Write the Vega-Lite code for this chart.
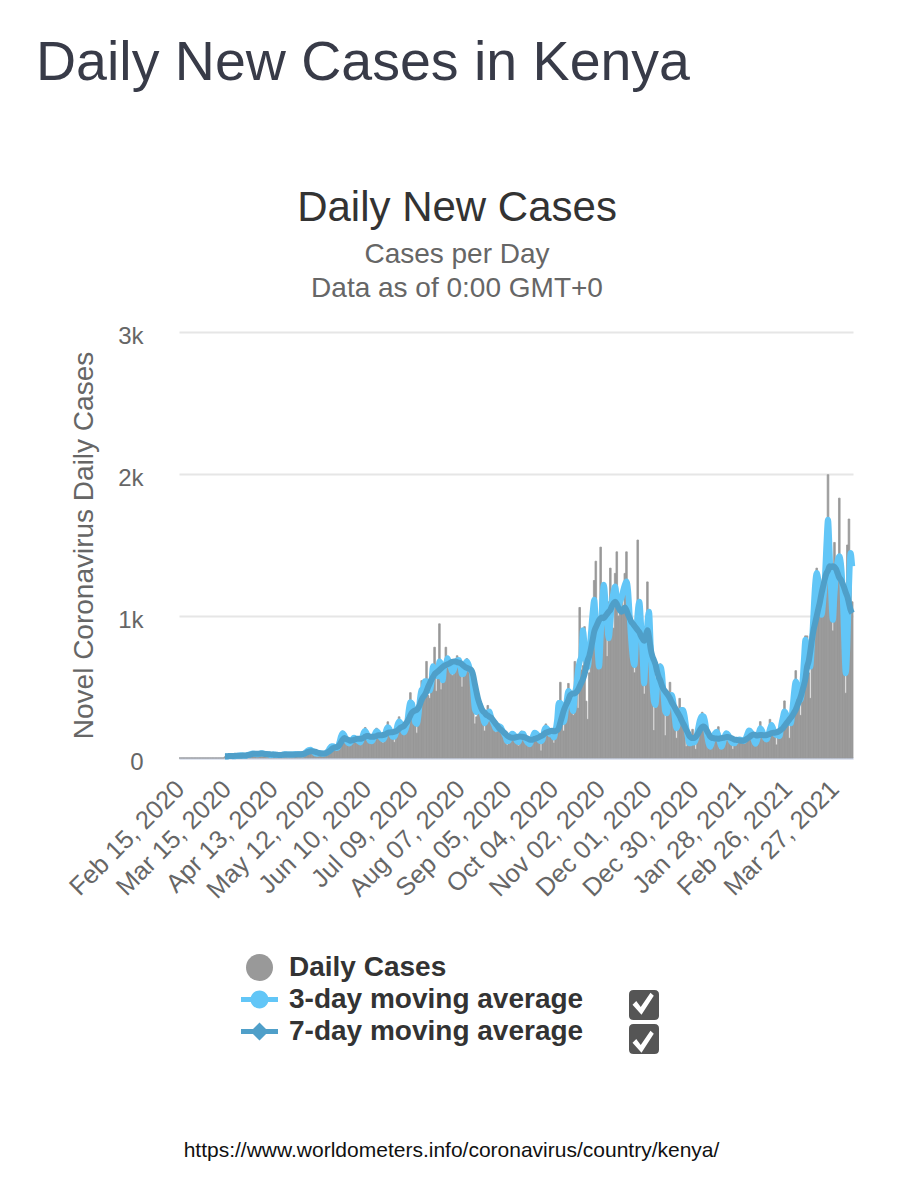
{"$schema":"https://vega.github.io/schema/vega-lite/v6.json","background":"white","padding":{"left":36,"top":35,"right":5,"bottom":5},"config":{"font":"Liberation Sans","view":{"stroke":null},"concat":{"spacing":0}},
"title":{"text":"Daily New Cases in Kenya","anchor":"start","frame":"bounds","dx":-29,"fontSize":55.5,"fontWeight":"normal","color":"#383b48","offset":96},
"datasets":{"days":[
{"d":"Feb 15, 2020","c":0},{"d":"Feb 16, 2020","c":0},{"d":"Feb 17, 2020","c":0},{"d":"Feb 18, 2020","c":0},{"d":"Feb 19, 2020","c":0},{"d":"Feb 20, 2020","c":0},{"d":"Feb 21, 2020","c":0},{"d":"Feb 22, 2020","c":0},{"d":"Feb 23, 2020","c":0},{"d":"Feb 24, 2020","c":0},{"d":"Feb 25, 2020","c":0},{"d":"Feb 26, 2020","c":0},{"d":"Feb 27, 2020","c":0},{"d":"Feb 28, 2020","c":0},{"d":"Feb 29, 2020","c":0},
{"d":"Mar 01, 2020","c":0},{"d":"Mar 02, 2020","c":0},{"d":"Mar 03, 2020","c":0},{"d":"Mar 04, 2020","c":0},{"d":"Mar 05, 2020","c":0},{"d":"Mar 06, 2020","c":0},{"d":"Mar 07, 2020","c":0},{"d":"Mar 08, 2020","c":0},{"d":"Mar 09, 2020","c":0},{"d":"Mar 10, 2020","c":0},{"d":"Mar 11, 2020","c":0},{"d":"Mar 12, 2020","c":0},{"d":"Mar 13, 2020","c":0},
{"d":"Mar 14, 2020","c":8,"a":10,"b":12},{"d":"Mar 15, 2020","c":6,"a":10,"b":12},{"d":"Mar 16, 2020","c":10,"a":12,"b":13},{"d":"Mar 17, 2020","c":12,"a":14,"b":14},{"d":"Mar 18, 2020","c":14,"a":14,"b":14},{"d":"Mar 19, 2020","c":10,"a":12,"b":14},{"d":"Mar 20, 2020","c":9,"a":12,"b":15},
{"d":"Mar 21, 2020","c":12,"a":14,"b":15},{"d":"Mar 22, 2020","c":15,"a":16,"b":15},{"d":"Mar 23, 2020","c":18,"a":18,"b":16},{"d":"Mar 24, 2020","c":20,"a":19,"b":16},{"d":"Mar 25, 2020","c":18,"a":18,"b":17},{"d":"Mar 26, 2020","c":16,"a":16,"b":17},{"d":"Mar 27, 2020","c":14,"a":16,"b":18},
{"d":"Mar 28, 2020","c":20,"a":20,"b":20},{"d":"Mar 29, 2020","c":24,"a":24,"b":22},{"d":"Mar 30, 2020","c":28,"a":28,"b":25},{"d":"Mar 31, 2020","c":34,"a":31,"b":28},{"d":"Apr 01, 2020","c":30,"a":30,"b":30},{"d":"Apr 02, 2020","c":26,"a":28,"b":30},{"d":"Apr 03, 2020","c":25,"a":26,"b":30},
{"d":"Apr 04, 2020","c":26,"a":28,"b":30},{"d":"Apr 05, 2020","c":32,"a":32,"b":31},{"d":"Apr 06, 2020","c":36,"a":33,"b":32},{"d":"Apr 07, 2020","c":30,"a":31,"b":30},{"d":"Apr 08, 2020","c":26,"a":29,"b":28},{"d":"Apr 09, 2020","c":28,"a":27,"b":28},{"d":"Apr 10, 2020","c":24,"a":26,"b":27},
{"d":"Apr 11, 2020","c":18,"a":22,"b":26},{"d":"Apr 12, 2020","c":22,"a":22,"b":25},{"d":"Apr 13, 2020","c":26,"a":24,"b":24},{"d":"Apr 14, 2020","c":24,"a":24,"b":23},{"d":"Apr 15, 2020","c":22,"a":22,"b":23},{"d":"Apr 16, 2020","c":20,"a":22,"b":22},{"d":"Apr 17, 2020","c":22,"a":22,"b":22},
{"d":"Apr 18, 2020","c":20,"a":22,"b":22},{"d":"Apr 19, 2020","c":22,"a":24,"b":23},{"d":"Apr 20, 2020","c":28,"a":26,"b":24},{"d":"Apr 21, 2020","c":26,"a":26,"b":24},{"d":"Apr 22, 2020","c":24,"a":24,"b":24},{"d":"Apr 23, 2020","c":22,"a":24,"b":24},{"d":"Apr 24, 2020","c":26,"a":24,"b":24},
{"d":"Apr 25, 2020","c":22,"a":24,"b":25},{"d":"Apr 26, 2020","c":24,"a":26,"b":25},{"d":"Apr 27, 2020","c":30,"a":28,"b":25},{"d":"Apr 28, 2020","c":28,"a":27,"b":26},{"d":"Apr 29, 2020","c":24,"a":26,"b":26},{"d":"Apr 30, 2020","c":26,"a":26,"b":26},{"d":"May 01, 2020","c":24,"a":25,"b":28},
{"d":"May 02, 2020","c":28,"a":30,"b":30},{"d":"May 03, 2020","c":36,"a":38,"b":34},{"d":"May 04, 2020","c":48,"a":48,"b":40},{"d":"May 05, 2020","c":62,"a":56,"b":44},{"d":"May 06, 2020","c":56,"a":58,"b":48},{"d":"May 07, 2020","c":50,"a":50,"b":48},{"d":"May 08, 2020","c":42,"a":44,"b":46},
{"d":"May 09, 2020","c":30,"a":32,"b":44},{"d":"May 10, 2020","c":26,"a":30,"b":40},{"d":"May 11, 2020","c":34,"a":32,"b":36},{"d":"May 12, 2020","c":38,"a":34,"b":33},{"d":"May 13, 2020","c":32,"a":32,"b":32},{"d":"May 14, 2020","c":28,"a":30,"b":32},{"d":"May 15, 2020","c":30,"a":32,"b":32},
{"d":"May 16, 2020","c":36,"a":38,"b":36},{"d":"May 17, 2020","c":44,"a":50,"b":42},{"d":"May 18, 2020","c":70,"a":68,"b":50},{"d":"May 19, 2020","c":86,"a":82,"b":60},{"d":"May 20, 2020","c":90,"a":82,"b":70},{"d":"May 21, 2020","c":72,"a":78,"b":74},{"d":"May 22, 2020","c":66,"a":70,"b":76},
{"d":"May 23, 2020","c":60,"a":72,"b":80},{"d":"May 24, 2020","c":100,"a":110,"b":92},{"d":"May 25, 2020","c":170,"a":153,"b":110},{"d":"May 26, 2020","c":190,"a":175,"b":130},{"d":"May 27, 2020","c":165,"a":160,"b":140},{"d":"May 28, 2020","c":135,"a":135,"b":135},{"d":"May 29, 2020","c":110,"a":110,"b":130},
{"d":"May 30, 2020","c":95,"a":102,"b":125},{"d":"May 31, 2020","c":100,"a":112,"b":122},{"d":"Jun 01, 2020","c":140,"a":130,"b":125},{"d":"Jun 02, 2020","c":150,"a":142,"b":128},{"d":"Jun 03, 2020","c":135,"a":136,"b":132},{"d":"Jun 04, 2020","c":125,"a":126,"b":135},{"d":"Jun 05, 2020","c":120,"a":118,"b":135},
{"d":"Jun 06, 2020","c":90,"a":110,"b":135},{"d":"Jun 07, 2020","c":130,"a":136,"b":138},{"d":"Jun 08, 2020","c":190,"a":178,"b":142},{"d":"Jun 09, 2020","c":215,"a":190,"b":150},{"d":"Jun 10, 2020","c":170,"a":170,"b":155},{"d":"Jun 11, 2020","c":140,"a":140,"b":155},{"d":"Jun 12, 2020","c":120,"a":120,"b":150},
{"d":"Jun 13, 2020","c":100,"a":118,"b":150},{"d":"Jun 14, 2020","c":125,"a":133,"b":150},{"d":"Jun 15, 2020","c":175,"a":170,"b":152},{"d":"Jun 16, 2020","c":210,"a":188,"b":155},{"d":"Jun 17, 2020","c":180,"a":180,"b":160},{"d":"Jun 18, 2020","c":150,"a":155,"b":160},{"d":"Jun 19, 2020","c":140,"a":140,"b":160},
{"d":"Jun 20, 2020","c":105,"a":130,"b":162},{"d":"Jun 21, 2020","c":140,"a":146,"b":165},{"d":"Jun 22, 2020","c":195,"a":196,"b":170},{"d":"Jun 23, 2020","c":255,"a":216,"b":178},{"d":"Jun 24, 2020","c":200,"a":205,"b":180},{"d":"Jun 25, 2020","c":165,"a":170,"b":182},{"d":"Jun 26, 2020","c":150,"a":150,"b":182},
{"d":"Jun 27, 2020","c":110,"a":150,"b":185},{"d":"Jun 28, 2020","c":170,"a":175,"b":188},{"d":"Jun 29, 2020","c":240,"a":233,"b":195},{"d":"Jun 30, 2020","c":290,"a":257,"b":205},{"d":"Jul 01, 2020","c":240,"a":243,"b":215},{"d":"Jul 02, 2020","c":200,"a":205,"b":220},{"d":"Jul 03, 2020","c":175,"a":180,"b":225},
{"d":"Jul 04, 2020","c":175,"a":200,"b":240},{"d":"Jul 05, 2020","c":240,"a":245,"b":255},{"d":"Jul 06, 2020","c":325,"a":340,"b":275},{"d":"Jul 07, 2020","c":460,"a":392,"b":300},{"d":"Jul 08, 2020","c":390,"a":383,"b":320},{"d":"Jul 09, 2020","c":300,"a":310,"b":330},{"d":"Jul 10, 2020","c":240,"a":250,"b":335},
{"d":"Jul 11, 2020","c":175,"a":240,"b":340},{"d":"Jul 12, 2020","c":300,"a":298,"b":355},{"d":"Jul 13, 2020","c":420,"a":422,"b":380},{"d":"Jul 14, 2020","c":545,"a":480,"b":410},{"d":"Jul 15, 2020","c":480,"a":490,"b":430},{"d":"Jul 16, 2020","c":450,"a":540,"b":445},{"d":"Jul 17, 2020","c":680,"a":540,"b":470},
{"d":"Jul 18, 2020","c":440,"a":530,"b":500},{"d":"Jul 19, 2020","c":420,"a":475,"b":525},{"d":"Jul 20, 2020","c":560,"a":527,"b":550},{"d":"Jul 21, 2020","c":600,"a":647,"b":570},{"d":"Jul 22, 2020","c":780,"a":617,"b":590},{"d":"Jul 23, 2020","c":470,"a":617,"b":600},{"d":"Jul 24, 2020","c":600,"a":575,"b":610},
{"d":"Jul 25, 2020","c":945,"a":680,"b":620},{"d":"Jul 26, 2020","c":480,"a":662,"b":630},{"d":"Jul 27, 2020","c":560,"a":547,"b":640},{"d":"Jul 28, 2020","c":600,"a":647,"b":650},{"d":"Jul 29, 2020","c":780,"a":657,"b":655},{"d":"Jul 30, 2020","c":690,"a":703,"b":660},{"d":"Jul 31, 2020","c":640,"a":670,"b":665},
{"d":"Aug 01, 2020","c":600,"a":640,"b":672},{"d":"Aug 02, 2020","c":580,"a":607,"b":678},{"d":"Aug 03, 2020","c":640,"a":623,"b":680},{"d":"Aug 04, 2020","c":650,"a":670,"b":680},{"d":"Aug 05, 2020","c":720,"a":687,"b":675},{"d":"Aug 06, 2020","c":690,"a":690,"b":672},{"d":"Aug 07, 2020","c":660,"a":650,"b":668},
{"d":"Aug 08, 2020","c":500,"a":590,"b":660},{"d":"Aug 09, 2020","c":600,"a":593,"b":650},{"d":"Aug 10, 2020","c":680,"a":660,"b":640},{"d":"Aug 11, 2020","c":700,"a":680,"b":635},{"d":"Aug 12, 2020","c":660,"a":660,"b":630},{"d":"Aug 13, 2020","c":620,"a":623,"b":625},{"d":"Aug 14, 2020","c":590,"a":610,"b":615},
{"d":"Aug 15, 2020","c":500,"a":470,"b":580},{"d":"Aug 16, 2020","c":240,"a":343,"b":520},{"d":"Aug 17, 2020","c":290,"a":323,"b":465},{"d":"Aug 18, 2020","c":440,"a":367,"b":415},{"d":"Aug 19, 2020","c":370,"a":373,"b":380},{"d":"Aug 20, 2020","c":310,"a":327,"b":350},{"d":"Aug 21, 2020","c":300,"a":285,"b":330},
{"d":"Aug 22, 2020","c":190,"a":245,"b":320},{"d":"Aug 23, 2020","c":240,"a":267,"b":305},{"d":"Aug 24, 2020","c":370,"a":313,"b":300},{"d":"Aug 25, 2020","c":330,"a":327,"b":290},{"d":"Aug 26, 2020","c":280,"a":290,"b":285},{"d":"Aug 27, 2020","c":260,"a":258,"b":270},{"d":"Aug 28, 2020","c":235,"a":232,"b":255},
{"d":"Aug 29, 2020","c":180,"a":205,"b":240},{"d":"Aug 30, 2020","c":210,"a":210,"b":225},{"d":"Aug 31, 2020","c":240,"a":223,"b":210},{"d":"Sep 01, 2020","c":220,"a":217,"b":200},{"d":"Sep 02, 2020","c":190,"a":195,"b":190},{"d":"Sep 03, 2020","c":175,"a":173,"b":180},{"d":"Sep 04, 2020","c":155,"a":150,"b":170},
{"d":"Sep 05, 2020","c":90,"a":118,"b":158},{"d":"Sep 06, 2020","c":110,"a":122,"b":150},{"d":"Sep 07, 2020","c":165,"a":152,"b":145},{"d":"Sep 08, 2020","c":180,"a":170,"b":142},{"d":"Sep 09, 2020","c":165,"a":165,"b":142},{"d":"Sep 10, 2020","c":150,"a":147,"b":145},{"d":"Sep 11, 2020","c":125,"a":120,"b":148},
{"d":"Sep 12, 2020","c":85,"a":112,"b":150},{"d":"Sep 13, 2020","c":150,"a":142,"b":152},{"d":"Sep 14, 2020","c":190,"a":170,"b":150},{"d":"Sep 15, 2020","c":170,"a":170,"b":148},{"d":"Sep 16, 2020","c":150,"a":143,"b":145},{"d":"Sep 17, 2020","c":110,"a":120,"b":140},{"d":"Sep 18, 2020","c":100,"a":105,"b":135},
{"d":"Sep 19, 2020","c":90,"a":97,"b":130},{"d":"Sep 20, 2020","c":100,"a":120,"b":128},{"d":"Sep 21, 2020","c":170,"a":153,"b":130},{"d":"Sep 22, 2020","c":190,"a":177,"b":135},{"d":"Sep 23, 2020","c":170,"a":173,"b":138},{"d":"Sep 24, 2020","c":160,"a":157,"b":142},{"d":"Sep 25, 2020","c":140,"a":125,"b":148},
{"d":"Sep 26, 2020","c":50,"a":118,"b":155},{"d":"Sep 27, 2020","c":140,"a":130,"b":160},{"d":"Sep 28, 2020","c":200,"a":193,"b":170},{"d":"Sep 29, 2020","c":240,"a":213,"b":178},{"d":"Sep 30, 2020","c":200,"a":203,"b":182},{"d":"Oct 01, 2020","c":170,"a":178,"b":186},{"d":"Oct 02, 2020","c":165,"a":165,"b":190},
{"d":"Oct 03, 2020","c":160,"a":165,"b":192},{"d":"Oct 04, 2020","c":105,"a":145,"b":188},{"d":"Oct 05, 2020","c":170,"a":192,"b":190},{"d":"Oct 06, 2020","c":300,"a":267,"b":195},{"d":"Oct 07, 2020","c":330,"a":388,"b":210},{"d":"Oct 08, 2020","c":533,"a":388,"b":250},{"d":"Oct 09, 2020","c":300,"a":340,"b":290},
{"d":"Oct 10, 2020","c":190,"a":253,"b":330},{"d":"Oct 11, 2020","c":270,"a":297,"b":360},{"d":"Oct 12, 2020","c":430,"a":408,"b":385},{"d":"Oct 13, 2020","c":525,"a":472,"b":410},{"d":"Oct 14, 2020","c":460,"a":452,"b":440},{"d":"Oct 15, 2020","c":370,"a":377,"b":450},{"d":"Oct 16, 2020","c":300,"a":330,"b":455},
{"d":"Oct 17, 2020","c":680,"a":450,"b":455},{"d":"Oct 18, 2020","c":500,"a":510,"b":465},{"d":"Oct 19, 2020","c":350,"a":620,"b":480},{"d":"Oct 20, 2020","c":1060,"a":680,"b":505},{"d":"Oct 21, 2020","c":620,"a":715,"b":530},{"d":"Oct 22, 2020","c":650,"a":900,"b":555},{"d":"Oct 23, 2020","c":925,"a":800,"b":590},
{"d":"Oct 24, 2020","c":400,"a":690,"b":640},{"d":"Oct 25, 2020","c":272,"a":640,"b":690},{"d":"Oct 26, 2020","c":600,"a":730,"b":720},{"d":"Oct 27, 2020","c":900,"a":880,"b":770},{"d":"Oct 28, 2020","c":1100,"a":1020,"b":830},{"d":"Oct 29, 2020","c":1250,"a":1114,"b":890},{"d":"Oct 30, 2020","c":1386,"a":950,"b":920},
{"d":"Oct 31, 2020","c":700,"a":780,"b":945},{"d":"Nov 01, 2020","c":650,"a":644,"b":970},{"d":"Nov 02, 2020","c":1485,"a":850,"b":985},{"d":"Nov 03, 2020","c":1200,"a":1100,"b":990},{"d":"Nov 04, 2020","c":1100,"a":1220,"b":985},{"d":"Nov 05, 2020","c":1000,"a":1100,"b":1000},{"d":"Nov 06, 2020","c":714,"a":950,"b":1015},
{"d":"Nov 07, 2020","c":1100,"a":843,"b":1030},{"d":"Nov 08, 2020","c":1337,"a":950,"b":1043},{"d":"Nov 09, 2020","c":1150,"a":1100,"b":1070},{"d":"Nov 10, 2020","c":914,"a":1170,"b":1090},{"d":"Nov 11, 2020","c":1300,"a":1207,"b":1100},{"d":"Nov 12, 2020","c":1452,"a":1130,"b":1085},{"d":"Nov 13, 2020","c":1000,"a":1067,"b":1060},
{"d":"Nov 14, 2020","c":1150,"a":1100,"b":1040},{"d":"Nov 15, 2020","c":1100,"a":1130,"b":1030},{"d":"Nov 16, 2020","c":1050,"a":1180,"b":1045},{"d":"Nov 17, 2020","c":1300,"a":1220,"b":1060},{"d":"Nov 18, 2020","c":1452,"a":1243,"b":1040},{"d":"Nov 19, 2020","c":1100,"a":1180,"b":1010},{"d":"Nov 20, 2020","c":900,"a":1000,"b":985},
{"d":"Nov 21, 2020","c":700,"a":820,"b":960},{"d":"Nov 22, 2020","c":650,"a":700,"b":945},{"d":"Nov 23, 2020","c":600,"a":655,"b":930},{"d":"Nov 24, 2020","c":750,"a":850,"b":915},{"d":"Nov 25, 2020","c":1535,"a":1030,"b":900},{"d":"Nov 26, 2020","c":1100,"a":1100,"b":885},{"d":"Nov 27, 2020","c":800,"a":950,"b":860},
{"d":"Nov 28, 2020","c":550,"a":720,"b":840},{"d":"Nov 29, 2020","c":450,"a":526,"b":825},{"d":"Nov 30, 2020","c":600,"a":750,"b":860},{"d":"Dec 01, 2020","c":1240,"a":950,"b":900},{"d":"Dec 02, 2020","c":1000,"a":1030,"b":850},{"d":"Dec 03, 2020","c":800,"a":800,"b":770},{"d":"Dec 04, 2020","c":450,"a":550,"b":720},
{"d":"Dec 05, 2020","c":193,"a":400,"b":690},{"d":"Dec 06, 2020","c":400,"a":373,"b":660},{"d":"Dec 07, 2020","c":500,"a":500,"b":610},{"d":"Dec 08, 2020","c":550,"a":580,"b":570},{"d":"Dec 09, 2020","c":663,"a":644,"b":545},{"d":"Dec 10, 2020","c":550,"a":600,"b":510},{"d":"Dec 11, 2020","c":350,"a":450,"b":485},
{"d":"Dec 12, 2020","c":157,"a":330,"b":470},{"d":"Dec 13, 2020","c":350,"a":315,"b":455},{"d":"Dec 14, 2020","c":420,"a":380,"b":440},{"d":"Dec 15, 2020","c":533,"a":430,"b":420},{"d":"Dec 16, 2020","c":430,"a":444,"b":395},{"d":"Dec 17, 2020","c":350,"a":400,"b":375},{"d":"Dec 18, 2020","c":250,"a":280,"b":355},
{"d":"Dec 19, 2020","c":139,"a":209,"b":335},{"d":"Dec 20, 2020","c":250,"a":250,"b":315},{"d":"Dec 21, 2020","c":420,"a":310,"b":295},{"d":"Dec 22, 2020","c":350,"a":338,"b":270},{"d":"Dec 23, 2020","c":280,"a":338,"b":245},{"d":"Dec 24, 2020","c":250,"a":300,"b":225},{"d":"Dec 25, 2020","c":80,"a":220,"b":200},
{"d":"Dec 26, 2020","c":150,"a":150,"b":180},{"d":"Dec 27, 2020","c":90,"a":103,"b":155},{"d":"Dec 28, 2020","c":100,"a":105,"b":145},{"d":"Dec 29, 2020","c":202,"a":115,"b":140},{"d":"Dec 30, 2020","c":100,"a":110,"b":140},{"d":"Dec 31, 2020","c":61,"a":130,"b":150},{"d":"Jan 01, 2021","c":150,"a":180,"b":165},
{"d":"Jan 02, 2021","c":200,"a":240,"b":185},{"d":"Jan 03, 2021","c":290,"a":280,"b":205},{"d":"Jan 04, 2021","c":322,"a":295,"b":218},{"d":"Jan 05, 2021","c":280,"a":291,"b":222},{"d":"Jan 06, 2021","c":220,"a":240,"b":210},{"d":"Jan 07, 2021","c":120,"a":160,"b":190},{"d":"Jan 08, 2021","c":90,"a":100,"b":170},
{"d":"Jan 09, 2021","c":61,"a":80,"b":150},{"d":"Jan 10, 2021","c":120,"a":110,"b":142},{"d":"Jan 11, 2021","c":150,"a":150,"b":140},{"d":"Jan 12, 2021","c":180,"a":175,"b":138},{"d":"Jan 13, 2021","c":190,"a":185,"b":138},{"d":"Jan 14, 2021","c":220,"a":160,"b":136},{"d":"Jan 15, 2021","c":61,"a":110,"b":138},
{"d":"Jan 16, 2021","c":70,"a":80,"b":140},{"d":"Jan 17, 2021","c":100,"a":110,"b":142},{"d":"Jan 18, 2021","c":150,"a":155,"b":145},{"d":"Jan 19, 2021","c":180,"a":174,"b":148},{"d":"Jan 20, 2021","c":170,"a":165,"b":148},{"d":"Jan 21, 2021","c":130,"a":140,"b":145},{"d":"Jan 22, 2021","c":110,"a":115,"b":140},
{"d":"Jan 23, 2021","c":61,"a":105,"b":135},{"d":"Jan 24, 2021","c":100,"a":103,"b":130},{"d":"Jan 25, 2021","c":130,"a":120,"b":128},{"d":"Jan 26, 2021","c":130,"a":128,"b":126},{"d":"Jan 27, 2021","c":130,"a":130,"b":124},{"d":"Jan 28, 2021","c":125,"a":128,"b":122},{"d":"Jan 29, 2021","c":120,"a":125,"b":122},
{"d":"Jan 30, 2021","c":110,"a":120,"b":125},{"d":"Jan 31, 2021","c":130,"a":140,"b":130},{"d":"Feb 01, 2021","c":180,"a":170,"b":138},{"d":"Feb 02, 2021","c":190,"a":193,"b":145},{"d":"Feb 03, 2021","c":190,"a":185,"b":155},{"d":"Feb 04, 2021","c":160,"a":160,"b":162},{"d":"Feb 05, 2021","c":120,"a":125,"b":165},
{"d":"Feb 06, 2021","c":92,"a":100,"b":162},{"d":"Feb 07, 2021","c":110,"a":125,"b":158},{"d":"Feb 08, 2021","c":170,"a":170,"b":160},{"d":"Feb 09, 2021","c":256,"a":210,"b":162},{"d":"Feb 10, 2021","c":190,"a":195,"b":162},{"d":"Feb 11, 2021","c":150,"a":165,"b":160},{"d":"Feb 12, 2021","c":130,"a":140,"b":160},
{"d":"Feb 13, 2021","c":120,"a":130,"b":162},{"d":"Feb 14, 2021","c":150,"a":160,"b":166},{"d":"Feb 15, 2021","c":272,"a":205,"b":170},{"d":"Feb 16, 2021","c":210,"a":233,"b":175},{"d":"Feb 17, 2021","c":200,"a":205,"b":178},{"d":"Feb 18, 2021","c":160,"a":170,"b":178},{"d":"Feb 19, 2021","c":92,"a":160,"b":180},
{"d":"Feb 20, 2021","c":150,"a":160,"b":185},{"d":"Feb 21, 2021","c":180,"a":155,"b":192},{"d":"Feb 22, 2021","c":230,"a":230,"b":200},{"d":"Feb 23, 2021","c":280,"a":285,"b":210},{"d":"Feb 24, 2021","c":402,"a":327,"b":225},{"d":"Feb 25, 2021","c":300,"a":310,"b":240},{"d":"Feb 26, 2021","c":280,"a":280,"b":255},
{"d":"Feb 27, 2021","c":139,"a":250,"b":270},{"d":"Feb 28, 2021","c":250,"a":244,"b":285},{"d":"Mar 01, 2021","c":340,"a":350,"b":300},{"d":"Mar 02, 2021","c":450,"a":470,"b":320},{"d":"Mar 03, 2021","c":615,"a":538,"b":340},{"d":"Mar 04, 2021","c":500,"a":500,"b":370},{"d":"Mar 05, 2021","c":420,"a":430,"b":400},
{"d":"Mar 06, 2021","c":300,"a":409,"b":430},{"d":"Mar 07, 2021","c":420,"a":500,"b":470},{"d":"Mar 08, 2021","c":650,"a":680,"b":510},{"d":"Mar 09, 2021","c":860,"a":832,"b":560},{"d":"Mar 10, 2021","c":860,"a":780,"b":640},{"d":"Mar 11, 2021","c":600,"a":700,"b":680},{"d":"Mar 12, 2021","c":420,"a":644,"b":750},
{"d":"Mar 13, 2021","c":700,"a":800,"b":830},{"d":"Mar 14, 2021","c":1000,"a":1020,"b":900},{"d":"Mar 15, 2021","c":1250,"a":1220,"b":950},{"d":"Mar 16, 2021","c":1337,"a":1302,"b":1000},{"d":"Mar 17, 2021","c":1300,"a":1250,"b":1050},{"d":"Mar 18, 2021","c":1000,"a":1120,"b":1100},{"d":"Mar 19, 2021","c":1050,"a":1008,"b":1160},
{"d":"Mar 20, 2021","c":1100,"a":1100,"b":1210},{"d":"Mar 21, 2021","c":1150,"a":1250,"b":1260},{"d":"Mar 22, 2021","c":1500,"a":1500,"b":1300},{"d":"Mar 23, 2021","c":1995,"a":1678,"b":1320},{"d":"Mar 24, 2021","c":1400,"a":1450,"b":1350},{"d":"Mar 25, 2021","c":1000,"a":1150,"b":1345},{"d":"Mar 26, 2021","c":895,"a":973,"b":1350},
{"d":"Mar 27, 2021","c":1518,"a":1150,"b":1345},{"d":"Mar 28, 2021","c":1200,"a":1300,"b":1330},{"d":"Mar 29, 2021","c":1300,"a":1390,"b":1300},{"d":"Mar 30, 2021","c":1830,"a":1420,"b":1270},{"d":"Mar 31, 2021","c":1300,"a":1370,"b":1255},{"d":"Apr 01, 2021","c":1100,"a":1200,"b":1230},{"d":"Apr 02, 2021","c":800,"a":850,"b":1200},
{"d":"Apr 03, 2021","c":456,"a":597,"b":1165},{"d":"Apr 04, 2021","c":1500,"a":800,"b":1137},{"d":"Apr 05, 2021","c":1683,"a":1200,"b":1090},{"d":"Apr 06, 2021","c":1450,"a":1443,"b":1043},{"d":"Apr 07, 2021","c":1100,"a":1350,"b":1020}
]},
"vconcat":[{
"width":674,"height":426,
"title":{"text":"Daily New Cases","subtitle":["Cases per Day","Data as of 0:00 GMT+0"],"anchor":"middle","dx":-59,"fontSize":42,"fontWeight":"normal","color":"#333333","subtitleFontSize":28,"subtitleColor":"#666666","subtitleLineHeight":34,"subtitlePadding":11,"offset":20},
"encoding":{"x":{"field":"d","type":"ordinal","sort":null,"scale":{"type":"band","paddingInner":0,"paddingOuter":0},
"axis":{"values":["Feb 15, 2020","Mar 15, 2020","Apr 13, 2020","May 12, 2020","Jun 10, 2020","Jul 09, 2020","Aug 07, 2020","Sep 05, 2020","Oct 04, 2020","Nov 02, 2020","Dec 01, 2020","Dec 30, 2020","Jan 28, 2021","Feb 26, 2021","Mar 27, 2021"],"labelAngle":-45,"labelAlign":"right","labelBaseline":"top","labelFontSize":25.5,"labelColor":"#666666","labelOverlap":false,"labelPadding":18,"labelBound":false,"labelFlush":false,"labelOffset":-8,"labelLimit":400,"ticks":false,"domain":true,"domainColor":"#ccd6eb","domainWidth":2,"grid":false,
"title":"https://www.worldometers.info/coronavirus/country/kenya/","titleFontSize":21,"titleFontWeight":"normal","titleColor":"#111111","titleX":272,"titleY":392,"titleAlign":"center","titleBaseline":"middle","titleAnchor":"middle"}}},
"layer":[
{"data":{"name":"days"},"mark":{"type":"bar","color":"#999999","stroke":"#999999","strokeWidth":0.8},"encoding":{"y":{"field":"c","type":"quantitative","scale":{"domain":[0,3000]},"axis":{"values":[0,1000,2000,3000],"labelExpr":"datum.value==0?'0':(datum.value/1000)+'k'","labelFontSize":24,"labelColor":"#666666","labelPadding":36,"labelOffset":4,"ticks":false,"domain":false,"grid":true,"gridColor":"#e6e6e6","gridWidth":2,"title":"Novel Coronavirus Daily Cases","titleFontSize":28,"titleFontWeight":"normal","titleColor":"#666666","titleX":-95,"titleY":213,"titleAlign":"center","titleBaseline":"middle"}}}},
{"data":{"name":"days"},"mark":{"type":"line","color":"#62c6f7","strokeWidth":6,"interpolate":"monotone"},"encoding":{"y":{"field":"a","type":"quantitative"}}},
{"data":{"name":"days"},"mark":{"type":"line","color":"#4f9fc9","strokeWidth":6,"interpolate":"monotone"},"encoding":{"y":{"field":"b","type":"quantitative"}}},
{"data":{"values":[{"s":"Daily Cases"},{"s":"3-day moving average"},{"s":"7-day moving average"}]},"mark":{"type":"point","filled":true,"size":0,"opacity":1},"encoding":{"x":{"field":"s","type":"nominal","scale":null,"axis":null},"color":{"field":"s","type":"nominal","sort":null,"scale":{"domain":["Daily Cases","3-day moving average","7-day moving average"],"range":["#999999","#62c6f7","#4f9fc9"]},"legend":{"orient":"none","legendX":66.5,"legendY":621.5,"title":null,"padding":0,"symbolSize":625,"symbolOpacity":1,"labelFontSize":28,"labelFontWeight":"bold","labelColor":"#333333","labelOffset":15.5,"labelLimit":500,"rowPadding":4,"symbolStrokeWidth":0}},"shape":{"field":"s","type":"nominal","sort":null,"scale":{"domain":["Daily Cases","3-day moving average","7-day moving average"],"range":["M-1.08,0 A1.08,1.08 0 1,1 1.08,0 A1.08,1.08 0 1,1 -1.08,0 Z","M-1.48,-0.2 H1.48 V0.2 H-1.48 Z M-0.72,0 A0.72,0.72 0 1,1 0.72,0 A0.72,0.72 0 1,1 -0.72,0 Z","M-1.48,-0.2 H1.48 V0.2 H-1.48 Z M0,-0.72 L0.72,0 L0,0.72 L-0.72,0 Z"]}}}},
{"data":{"values":[{"t":"3-day moving average on"},{"t":"7-day moving average on"}]},"mark":{"type":"point","filled":true,"size":0,"opacity":1,"color":"#555555"},"encoding":{"x":{"field":"t","type":"nominal","scale":null,"axis":null},"shape":{"field":"t","type":"nominal","sort":null,"scale":{"domain":["3-day moving average on","7-day moving average on"],"range":["M-0.7,-1 H0.7 Q1,-1 1,-0.7 V0.7 Q1,1 0.7,1 H-0.7 Q-1,1 -1,0.7 V-0.7 Q-1,-1 -0.7,-1 Z","M-0.7,-1 H0.7 Q1,-1 1,-0.7 V0.7 Q1,1 0.7,1 H-0.7 Q-1,1 -1,0.7 V-0.7 Q-1,-1 -0.7,-1 Z"]},"legend":{"orient":"none","legendX":449,"legendY":657,"title":null,"padding":0,"symbolSize":900,"symbolOpacity":1,"symbolStrokeColor":"#222222","symbolStrokeWidth":1.5,"labelExpr":"''","labelOffset":0,"rowPadding":-3}}}},
{"data":{"values":[{"k":"3-day tick"},{"k":"7-day tick"}]},"mark":{"type":"point","filled":true,"size":0,"opacity":1,"color":"#ffffff"},"encoding":{"x":{"field":"k","type":"nominal","scale":null,"axis":null},"shape":{"field":"k","type":"nominal","sort":null,"scale":{"domain":["3-day tick","7-day tick"],"range":["M-0.7,0.05 L-0.45,-0.2 L-0.15,0.2 L0.5,-0.75 L0.72,-0.55 L-0.1,0.72 Z","M-0.7,0.05 L-0.45,-0.2 L-0.15,0.2 L0.5,-0.75 L0.72,-0.55 L-0.1,0.72 Z"]},"legend":{"orient":"none","legendX":449,"legendY":657,"title":null,"padding":0,"symbolSize":900,"symbolOpacity":1,"symbolStrokeWidth":0,"labelExpr":"''","labelOffset":0,"rowPadding":12}}}}
],
"resolve":{"scale":{"x":"shared","shape":"independent","color":"independent"}}
}]}
